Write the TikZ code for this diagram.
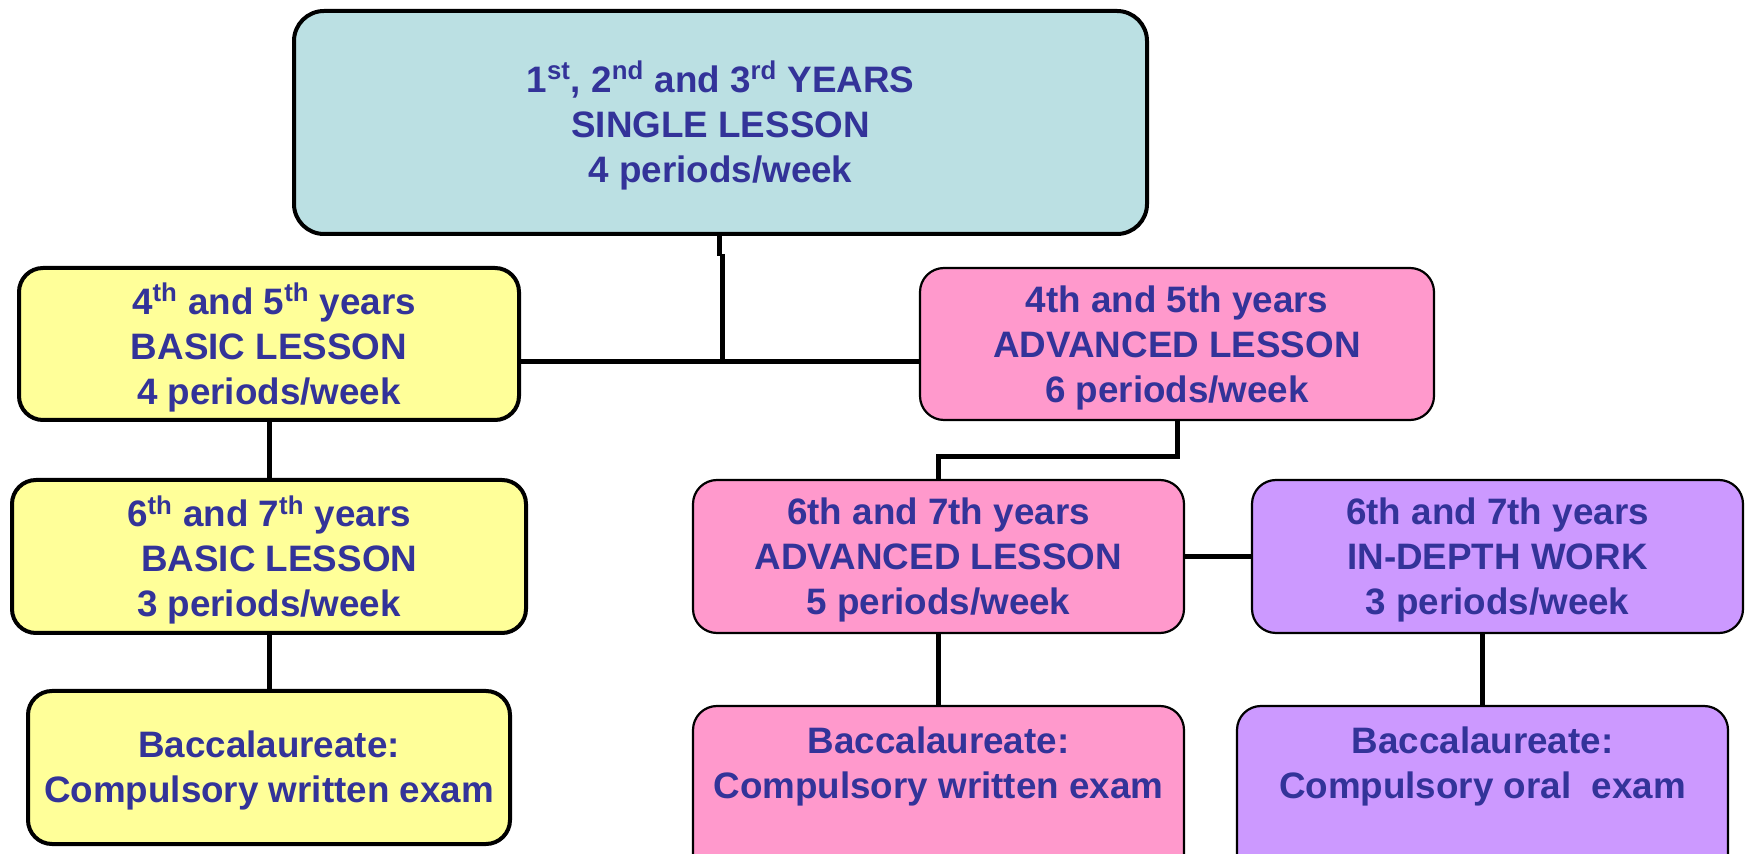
\documentclass[tikz,border=0pt]{standalone}
\usepackage{fontspec}
\setmainfont{Liberation Sans}
\usetikzlibrary{calc}
\definecolor{txt}{HTML}{333399}
\definecolor{cyanbox}{HTML}{BBE0E3}
\definecolor{yellowbox}{HTML}{FFFF99}
\definecolor{pinkbox}{HTML}{FF99CC}
\definecolor{purplebox}{HTML}{CC99FF}
\tikzset{
  box/.style={draw=black, rounded corners=12pt, inner sep=0pt, outer sep=0pt},
  ybox/.style={box, fill=yellowbox, line width=2pt},
  pbox/.style={box, fill=pinkbox, line width=1.1pt},
  vbox/.style={box, fill=purplebox, line width=1.1pt},
  txtnode/.style={align=center, text=txt, font=\fontsize{18.4}{22.5}\selectfont\bfseries, inner sep=0pt},
  conn/.style={draw=black, line width=2.5pt},
}
\begin{document}
\begin{tikzpicture}[x=0.5pt,y=-0.5pt]
\useasboundingbox (0,0) rectangle (1750,854);
\clip (0,0) rectangle (1750,854);
\fill[white] (0,0) rectangle (1750,854);
\coordinate (j) at (722,362);
\coordinate (jj) at (719,254);
\coordinate (k) at (0,457);
% boxes
\node[box, fill=cyanbox, line width=2pt, rounded corners=15pt, minimum width=426.5pt, minimum height=111.5pt] (top) at (720.5,122.5) {};
\node[ybox, minimum width=250pt, minimum height=76pt] (b45) at (269,344) {};
\node[pbox, minimum width=257pt, minimum height=76pt] (a45) at (1177,344) {};
\node[ybox, minimum width=257pt, minimum height=76.5pt] (b67) at (269,556.5) {};
\node[pbox, minimum width=245.5pt, minimum height=76.5pt] (a67) at (938.5,556.5) {};
\node[vbox, minimum width=245.5pt, minimum height=76.5pt] (d67) at (1497.5,556.5) {};
\node[ybox, minimum width=241pt, minimum height=76.5pt] (by) at (269,767.5) {};
\node[pbox, minimum width=245.5pt, minimum height=97pt] (ay) at (938.5,803) {};
\node[vbox, minimum width=245.5pt, minimum height=97pt] (dy) at (1482.5,803) {};
% texts
\node[txtnode] (topt) at ($(top)+(0,3)$)
  {1\textsuperscript{st}, 2\textsuperscript{nd} and 3\textsuperscript{rd} YEARS\\SINGLE LESSON\\4 periods/week};
\node[txtnode] (b45t) at ($(b45)+(0,3.5)$)
  {\ 4\textsuperscript{th} and 5\textsuperscript{th} years\\BASIC LESSON\\4 periods/week};
\node[txtnode] (a45t) at ($(a45)+(0,3.5)$)
  {4th and 5th years\\ADVANCED LESSON\\6 periods/week};
\node[txtnode] (b67t) at ($(b67)+(0,3.5)$)
  {6\textsuperscript{th} and 7\textsuperscript{th} years\hspace{1.2em}\\\ \ BASIC LESSON\\3 periods/week};
\node[txtnode] (a67t) at ($(a67)+(0,3.5)$)
  {6th and 7th years\\ADVANCED LESSON\\5 periods/week};
\node[txtnode] (d67t) at ($(d67)+(0,3.5)$)
  {6th and 7th years\\IN-DEPTH WORK\\3 periods/week};
\node[txtnode] (byt) at ($(by)+(0,3)$)
  {Baccalaureate:\\Compulsory written exam};
\node[txtnode] (ayt) at (938.5,766) {Baccalaureate:\\Compulsory written exam};
\node[txtnode] (dyt) at (1482.5,766) {Baccalaureate:\\Compulsory oral\ \ exam};
% connectors
\draw[conn] (top.south -| jj) -- ($(jj)+(0,2)$);
\draw[conn] (jj -| j) -- (j);
\draw[conn] (b45.east |- j) -- (a45.west |- j);
\draw[conn] (b45.south) -- (b67.north);
\draw[conn] (b67.south) -- (by.north);
\draw[conn] (a45.south) -- (a45.south |- k) -- (a67.north |- k) -- (a67.north);
\draw[conn] (a67.east) -- (d67.west);
\draw[conn] (a67.south) -- (ay.north);
\draw[conn] (d67.south -| dy.north) -- (dy.north);
\end{tikzpicture}
\end{document}
